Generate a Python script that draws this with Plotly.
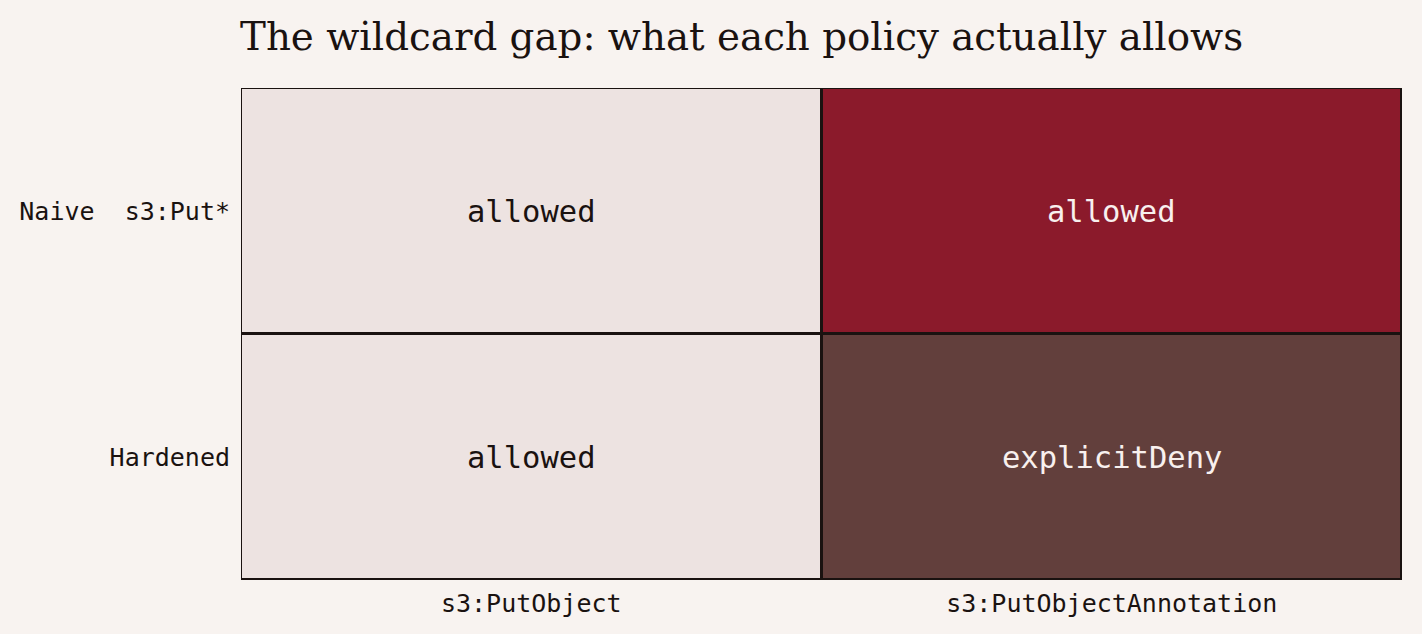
import plotly.graph_objects as go

# policy decision matrix
actions = ["s3:PutObject", "s3:PutObjectAnnotation"]
policies = ["Hardened", "Naive\u00a0 s3:Put*"]
# 0 = allowed (intended), 1 = allowed (wildcard gap), 2 = explicit deny
codes = [
    [0, 2],
    [0, 1],
]
labels = [
    ["allowed", "explicitDeny"],
    ["allowed", "allowed"],
]

INK = "#1a1210"
BG = "#f8f3f0"
colorscale = [
    [0.0, "#ede3e1"], [0.333, "#ede3e1"],
    [0.333, "#8b1a2b"], [0.667, "#8b1a2b"],
    [0.667, "#623f3c"], [1.0, "#623f3c"],
]
text_colors = {0: INK, 1: "#f8f0ee", 2: "#f8f0ee"}

fig = go.Figure()
fig.add_trace(go.Heatmap(
    z=codes,
    x=actions,
    y=policies,
    zmin=0,
    zmax=2,
    colorscale=colorscale,
    showscale=False,
    xgap=3,
    ygap=3,
    hoverinfo="skip",
))

for i, pol in enumerate(policies):
    for j, act in enumerate(actions):
        fig.add_annotation(
            x=act, y=pol, text=labels[i][j], showarrow=False,
            font=dict(family="DejaVu Sans Mono", size=30.5,
                      color=text_colors[codes[i][j]]),
        )

fig.update_layout(
    width=1422,
    height=634,
    paper_bgcolor=BG,
    plot_bgcolor=INK,
    margin=dict(l=241, r=20, t=88, b=54),
    title=dict(
        text="The wildcard gap: what each policy actually allows",
        x=240 / 1422,
        xanchor="left",
        y=0.964,
        yanchor="top",
        font=dict(family="DejaVu Serif", size=38.8, color=INK),
    ),
    font=dict(family="DejaVu Sans Mono", size=25, color=INK),
)
fig.update_xaxes(showgrid=False, zeroline=False, ticks="", ticklabelstandoff=6)
fig.update_yaxes(showgrid=False, zeroline=False, ticks="", ticklabelstandoff=10)

# drop the default page margin so the figure fills the window
fig.write_html(
    "out.html",
    config={"displayModeBar": False},
    post_script="document.body.style.margin='0';"
                "document.body.style.background='%s';" % BG,
)
